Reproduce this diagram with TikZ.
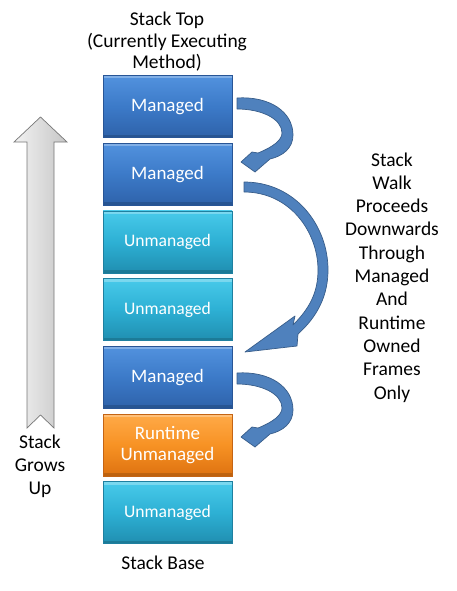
\documentclass[tikz,border=0pt]{standalone}
\usepackage{fontspec}
\setmainfont{Carlito}
\definecolor{mgTop}{RGB}{82,146,222}
\definecolor{mgMid}{RGB}{60,122,200}
\definecolor{mgBot}{RGB}{46,98,170}
\definecolor{mgLine}{RGB}{40,85,150}
\definecolor{umTop}{RGB}{72,202,234}
\definecolor{umMid}{RGB}{45,176,212}
\definecolor{umBot}{RGB}{32,142,176}
\definecolor{umLine}{RGB}{30,128,160}
\definecolor{rtTop}{RGB}{255,170,72}
\definecolor{rtMid}{RGB}{247,146,36}
\definecolor{rtBot}{RGB}{222,114,16}
\definecolor{rtLine}{RGB}{196,100,20}
\definecolor{arrFill}{RGB}{79,129,189}
\definecolor{arrLine}{RGB}{56,93,138}
\definecolor{grLine}{RGB}{120,120,120}
\tikzset{
  frame/.style={minimum width=129pt, minimum height=62pt, inner sep=0pt,
    text=white, align=center, line width=0.6pt,
    path picture={
      \fill[white,opacity=0.28] (path picture bounding box.north west) rectangle ([yshift=-3pt]path picture bounding box.north east);
      \fill[black,opacity=0.15] (path picture bounding box.south west) rectangle ([yshift=3pt]path picture bounding box.south east);
    }},
  managed/.style={frame, top color=mgTop, bottom color=mgBot, middle color=mgMid, draw=mgLine, font=\fontsize{19}{21.7}\selectfont},
  unmanaged/.style={frame, top color=umTop, bottom color=umBot, middle color=umMid, draw=umLine, font=\fontsize{17.6}{21}\selectfont},
  runtime/.style={frame, top color=rtTop, bottom color=rtBot, middle color=rtMid, draw=rtLine, font=\fontsize{19}{21.7}\selectfont},
  lbl/.style={align=center, inner sep=0pt, text=black},
  blockarrow/.style={fill=arrFill, draw=arrLine, line width=0.7pt, line join=round},
  curlyarrow/.pic={
    \path[blockarrow] (0,0) .. controls (33,-2) and (56,14) .. (56,37)
      .. controls (56,50) and (46,58) .. (33,61) -- (18,74) -- (4,64) -- (15,54) -- (21,55)
      .. controls (36,49) and (45,42) .. (45,35)
      .. controls (45,21) and (25,11) .. (0,11) -- cycle;
  }
}
\begin{document}
\begin{tikzpicture}[x=1pt,y=-1pt]
\useasboundingbox[fill=white] (0,0) rectangle (456,591);
% stack frames
\node[managed]   (b1) at (167.5,106.5) {Managed};
\node[managed]   (b2) at (167.5,174.2) {Managed};
\node[unmanaged] (b3) at (167.5,241.9) {Unmanaged};
\node[unmanaged] (b4) at (167.5,309.6) {Unmanaged};
\node[managed]   (b5) at (167.5,377.3) {Managed};
\node[runtime]   (b6) at (167.5,445.0) {Runtime\\Unmanaged};
\node[unmanaged] (b7) at (167.5,512.7) {Unmanaged};
% labels
\node[lbl, font=\fontsize{19.5}{21.5}\selectfont] (top) at (167,42) {Stack Top\\(Currently Executing\\Method)};
\node[lbl, font=\fontsize{19.5}{21.5}\selectfont] (base) at (163,563) {Stack Base};
\node[lbl, font=\fontsize{19.5}{23.3}\selectfont] (walk) at (392,277.3) {Stack\\Walk\\Proceeds\\Downwards\\Through\\Managed\\And\\Runtime\\Owned\\Frames\\Only};
\node[lbl, font=\fontsize{19.5}{23}\selectfont] (grows) at (40,466) {Stack\\Grows\\Up};
% gray growth arrow
\path[left color=gray!10, right color=gray!45, draw=grLine, line width=0.7pt, line join=miter]
  (40.5,117) -- (67,142) -- (54,142) -- (54,428) -- (40.5,415) -- (27,428) -- (27,142) -- (14,142) -- cycle;
% curved walk arrows
\pic at (237,98) {curlyarrow};
\pic at (237,373) {curlyarrow};
\path[blockarrow] (244,182) .. controls (295,182) and (328,225) .. (328,270)
  .. controls (328,295) and (318,316) .. (298,334) -- (297,346) -- (245,352) -- (295,316) -- (293,325)
  .. controls (310,308) and (318,292) .. (318,270)
  .. controls (318,232) and (290,192) .. (244,192) -- cycle;
\end{tikzpicture}
\end{document}
